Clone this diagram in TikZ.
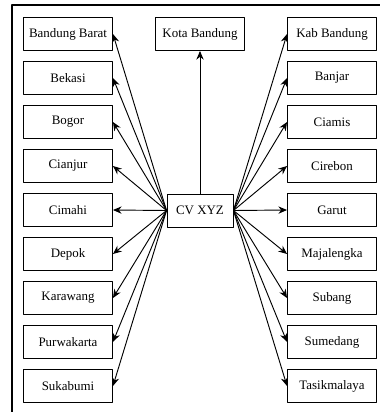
\documentclass[tikz,border=0pt]{standalone}
\usepackage{fontspec}
\setmainfont{Liberation Serif}
\usetikzlibrary{arrows.meta}
\begin{document}
\begin{tikzpicture}[>={Stealth[length=6.5pt,width=5.5pt]}, line join=round, x=.75pt, y=-.75pt, font=\fontsize{9.7}{11}\selectfont,
    kotak/.style={draw, line width=.7pt, minimum width=66.75pt, minimum height=24.75pt, inner sep=1pt},
    panah/.style={->, line width=.7pt}]
        \useasboundingbox (0,0) rectangle (380,412);
        \draw[line width=1.5pt] (12,412) -- (12,5) -- (380,5);
        \node[kotak, minimum width=49.5pt] (cv) at (200,210.5) {CV XYZ};
        \node[kotak] (kota) at (200,34) {Kota Bandung};
        \foreach \t [count=\i from 0] in {Bandung Barat,Bekasi,Bogor,Cianjur,Cimahi,Depok,Karawang,Purwakarta,Sukabumi}
            \node[kotak] (L\i) at (68,{34+44*\i}) {\t};
        \foreach \t [count=\i from 0] in {Kab Bandung,Banjar,Ciamis,Cirebon,Garut,Majalengka,Subang,Sumedang,Tasikmalaya}
            \node[kotak] (R\i) at (332,{34+44*\i}) {\t};
        \draw[panah] (cv.north) -- (kota.south);
        \foreach \i in {0,...,8}{
            \draw[panah] (cv.west) -- (L\i.east);
            \draw[panah] (cv.east) -- (R\i.west);
        }
    \end{tikzpicture}
\end{document}
